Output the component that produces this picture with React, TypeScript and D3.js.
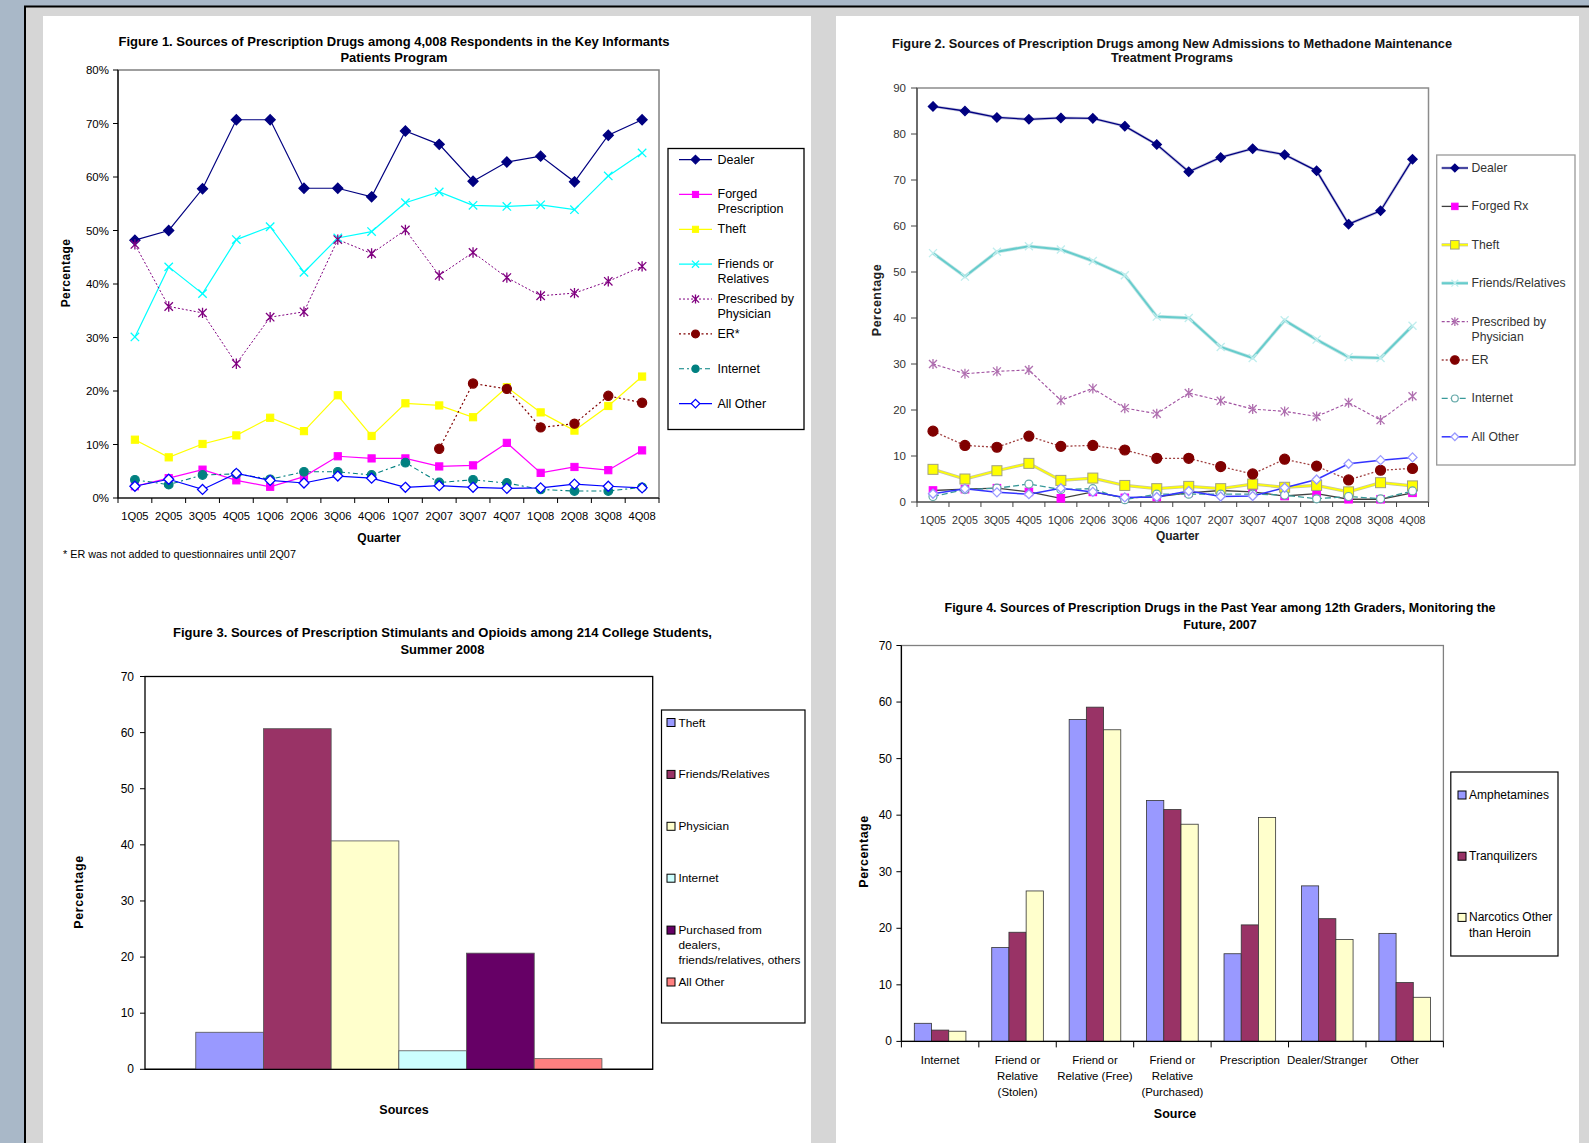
import * as d3 from "d3";

const FONT = "'Liberation Sans', Arial, Helvetica, sans-serif";

const quarters = ["1Q05", "2Q05", "3Q05", "4Q05", "1Q06", "2Q06", "3Q06", "4Q06", "1Q07", "2Q07", "3Q07", "4Q07", "1Q08", "2Q08", "3Q08", "4Q08"];

// Figure 1 - Key Informants (percent)
const f1Dealer = [48.2, 50.0, 57.8, 70.7, 70.7, 57.9, 57.9, 56.3, 68.6, 66.1, 59.2, 62.8, 63.9, 59.1, 67.8, 70.7];
const f1Forged = [2.2, 3.7, 5.3, 3.3, 2.1, 4.0, 7.8, 7.4, 7.4, 5.9, 6.1, 10.3, 4.7, 5.8, 5.2, 8.9];
const f1Theft = [10.9, 7.6, 10.1, 11.7, 15.0, 12.5, 19.2, 11.6, 17.7, 17.3, 15.1, 20.7, 16.0, 12.6, 17.2, 22.7];
const f1Friends = [30.1, 43.2, 38.2, 48.3, 50.7, 42.2, 48.6, 49.8, 55.2, 57.2, 54.7, 54.5, 54.8, 53.9, 60.2, 64.5];
const f1Prescribed = [47.4, 35.8, 34.6, 25.1, 33.8, 34.8, 48.3, 45.7, 50.1, 41.6, 45.9, 41.2, 37.8, 38.3, 40.5, 43.3];
const f1ER = [null, null, null, null, null, null, null, null, null, 9.2, 21.4, 20.4, 13.2, 13.9, 19.1, 17.8];
const f1Internet = [3.4, 2.5, 4.3, 4.5, 3.5, 4.9, 4.9, 4.3, 6.6, 2.9, 3.4, 2.8, 1.6, 1.3, 1.3, 2.0];
const f1AllOther = [2.2, 3.5, 1.6, 4.6, 3.3, 2.8, 4.1, 3.7, 2.0, 2.3, 2.0, 1.8, 1.9, 2.6, 2.2, 1.9];

// Figure 2 - Methadone Maintenance admissions
const f2Dealer = [86.0, 85.0, 83.6, 83.2, 83.5, 83.4, 81.7, 77.7, 71.8, 74.9, 76.8, 75.5, 72.0, 60.4, 63.3, 74.5];
const f2Forged = [2.5, 2.8, 3.0, 2.2, 0.8, 2.2, 0.9, 1.1, 2.0, 2.5, 2.2, 1.3, 1.8, 0.6, 0.6, 2.0];
const f2Theft = [7.1, 5.0, 6.8, 8.4, 4.7, 5.2, 3.6, 2.9, 3.4, 2.9, 3.9, 3.2, 3.6, 2.2, 4.2, 3.5];
const f2Friends = [54.1, 49.0, 54.4, 55.6, 54.9, 52.4, 49.3, 40.3, 40.0, 33.7, 31.3, 39.5, 35.3, 31.5, 31.3, 38.3];
const f2Prescribed = [30.0, 27.9, 28.4, 28.7, 22.1, 24.7, 20.4, 19.2, 23.7, 22.0, 20.2, 19.7, 18.6, 21.6, 17.8, 23.0];
const f2ER = [15.4, 12.3, 11.9, 14.3, 12.1, 12.3, 11.3, 9.5, 9.5, 7.7, 6.1, 9.3, 7.8, 4.8, 6.9, 7.3];
const f2Internet = [1.2, 2.7, 3.0, 3.9, 2.7, 2.9, 0.5, 1.7, 1.7, 1.7, 1.7, 1.5, 0.7, 1.2, 0.7, 2.4];
const f2AllOther = [1.8, 2.9, 2.1, 1.7, 3.0, 2.2, 1.0, 1.1, 2.4, 1.2, 1.3, 3.1, 4.9, 8.3, 9.1, 9.7];

// Figure 3 - College students
const f3Sources = ["Theft", "Friends/Relatives", "Physician", "Internet", "Purchased from\ndealers,\nfriends/relatives, others", "All Other"];
const f3Values = [6.6, 60.7, 40.7, 3.3, 20.7, 1.9];
const f3Colors = ["#9999ff", "#993366", "#ffffcc", "#ccffff", "#660066", "#ff8080"];

// Figure 4 - Monitoring the Future
const f4Sources = ["Internet", "Friend or\nRelative\n(Stolen)", "Friend or\nRelative (Free)", "Friend or\nRelative\n(Purchased)", "Prescription", "Dealer/Stranger", "Other"];
const f4Drugs = ["Amphetamines", "Tranquilizers", "Narcotics Other\nthan Heroin"];
const f4Amph = [3.2, 16.6, 56.9, 42.6, 15.5, 27.5, 19.1];
const f4Tranq = [2.0, 19.3, 59.1, 41.0, 20.6, 21.7, 10.4];
const f4Narc = [1.8, 26.6, 55.1, 38.4, 39.6, 18.0, 7.8];
const f4Colors = ["#9999ff", "#993366", "#ffffcc"];

type MarkerType = "diamond" | "square" | "circle" | "x" | "asterisk";

type LineSeries = {
  label: string;
  values: (number | null)[];
  line: string;
  width: number;
  dash?: string;
  halo?: string;
  marker: MarkerType;
  r: number;
  fill: string;
  stroke: string;
};

function Marker({ type, x, y, r, fill, stroke }: { type: MarkerType; x: number; y: number; r: number; fill: string; stroke: string }) {
  if (type === "diamond")
    return <path d={`M${x},${y - r}L${x + r},${y}L${x},${y + r}L${x - r},${y}Z`} fill={fill} stroke={stroke} strokeWidth={1.3} />;
  if (type === "square")
    return <rect x={x - r} y={y - r} width={2 * r} height={2 * r} fill={fill} stroke={stroke} strokeWidth={1} />;
  if (type === "circle") return <circle cx={x} cy={y} r={r} fill={fill} stroke={stroke} strokeWidth={1.2} />;
  const xs = `M${x - r},${y - r}L${x + r},${y + r}M${x - r},${y + r}L${x + r},${y - r}`;
  const d = type === "asterisk" ? xs + `M${x},${y - r - 1}L${x},${y + r + 1}` : xs;
  return <path d={d} fill="none" stroke={stroke} strokeWidth={1.3} />;
}

function Title({ lines, cx, ys, widths, size, color = "#000" }: { lines: string[]; cx: number; ys: number[]; widths: number[]; size: number; color?: string }) {
  return (
    <g>
      {lines.map((t, i) => (
        <text key={i} x={cx} y={ys[i]} textAnchor="middle" dominantBaseline="central" fontSize={size} fontWeight="bold" fill={color}
          textLength={widths[i]} lengthAdjust="spacingAndGlyphs">{t}</text>
      ))}
    </g>
  );
}

type Box = { l: number; r: number; t: number; b: number };

function LineChart({ plot, yMax, yStep, fmt, series, frame, axis, text, tick, xFont, yFont, yLabelX, xLabelY }: {
  plot: Box; yMax: number; yStep: number; fmt: (v: number) => string; series: LineSeries[]; frame: string; axis: string; text: string; tick: number; xFont: number; yFont: number; yLabelX: number; xLabelY: number;
}) {
  const x = d3.scaleBand().domain(quarters).range([plot.l, plot.r]);
  const y = d3.scaleLinear().domain([0, yMax]).range([plot.b, plot.t]);
  const ticks = d3.range(0, yMax + 0.001, yStep);
  const cx = (q: string) => (x(q) || 0) + x.bandwidth() / 2;
  return (
    <g>
      <rect x={plot.l} y={plot.t} width={plot.r - plot.l} height={plot.b - plot.t} fill="#fff" stroke={frame} strokeWidth={1.5} />
      <line x1={plot.l} x2={plot.l} y1={plot.t} y2={plot.b} stroke={axis} strokeWidth={1.2} />
      <line x1={plot.l} x2={plot.r} y1={plot.b} y2={plot.b} stroke={axis} strokeWidth={1.2} />
      {ticks.map((v) => (
        <g key={v}>
          <line x1={plot.l - tick} x2={plot.l} y1={y(v)} y2={y(v)} stroke={axis} />
          <text x={yLabelX} y={y(v)} textAnchor="end" dominantBaseline="central" fontSize={yFont} fill={text}>{fmt(v)}</text>
        </g>
      ))}
      {quarters.map((q) => (
        <line key={q} x1={x(q)} x2={x(q)} y1={plot.b} y2={plot.b + 5} stroke={axis} />
      ))}
      <line x1={plot.r} x2={plot.r} y1={plot.b} y2={plot.b + 5} stroke={axis} />
      {quarters.map((q) => (
        <text key={q} x={cx(q)} y={xLabelY} textAnchor="middle" dominantBaseline="central" fontSize={xFont} fill={text}>{q}</text>
      ))}
      {series.map((s) => {
        const line = d3.line<number | null>()
          .defined((d) => d != null)
          .x((_, i) => cx(quarters[i]))
          .y((d) => y(d as number));
        const path = line(s.values) || "";
        return (
          <g key={s.label}>
            {s.halo && <path d={path} fill="none" stroke={s.halo} strokeWidth={s.width + 1.6} />}
            <path d={path} fill="none" stroke={s.line} strokeWidth={s.width} strokeDasharray={s.dash} />
          </g>
        );
      })}
      {series.map((s) => (
        <g key={s.label + "m"}>
          {s.values.map((v, i) =>
            v == null ? null : <Marker key={i} type={s.marker} x={cx(quarters[i])} y={y(v)} r={s.r} fill={s.fill} stroke={s.stroke} />
          )}
        </g>
      ))}
    </g>
  );
}

function LineLegend({ box, series, x0, x1, tx, y0, step, lh, size, color, border }: {
  box: Box; series: LineSeries[]; x0: number; x1: number; tx: number; y0: number; step: number; lh: number; size: number; color: string; border: string;
}) {
  return (
    <g>
      <rect x={box.l} y={box.t} width={box.r - box.l} height={box.b - box.t} fill="#fff" stroke={border} strokeWidth={1.3} />
      {series.map((s, i) => {
        const yy = y0 + i * step;
        const mx = (x0 + x1) / 2;
        return (
          <g key={s.label}>
            {s.halo && <line x1={x0} x2={x1} y1={yy} y2={yy} stroke={s.halo} strokeWidth={s.width + 1.6} />}
            <line x1={x0} x2={x1} y1={yy} y2={yy} stroke={s.line} strokeWidth={s.width} strokeDasharray={s.dash} />
            <Marker type={s.marker} x={mx} y={yy} r={s.r * 0.85} fill={s.fill} stroke={s.stroke} />
            {s.label.split("\n").map((t, j) => (
              <text key={j} x={tx} y={yy + j * lh} dominantBaseline="central" fontSize={size} fill={color}>{t}</text>
            ))}
          </g>
        );
      })}
    </g>
  );
}

function YAxis({ plot, yMax, tick, labelX, size }: { plot: Box; yMax: number; tick: number; labelX: number; size: number }) {
  const y = d3.scaleLinear().domain([0, yMax]).range([plot.b, plot.t]);
  return (
    <g>
      {y.ticks(7).map((v) => (
        <g key={v}>
          <line x1={plot.l - tick} x2={plot.l} y1={y(v)} y2={y(v)} stroke="#000" />
          <text x={labelX} y={y(v)} textAnchor="end" dominantBaseline="central" fontSize={size}>{v}</text>
        </g>
      ))}
    </g>
  );
}

function BarLegend({ box, labels, colors, sx, tx, y0, step, lh, size }: {
  box: Box; labels: string[]; colors: string[]; sx: number; tx: number; y0: number; step: number; lh: number; size: number;
}) {
  return (
    <g>
      <rect x={box.l} y={box.t} width={box.r - box.l} height={box.b - box.t} fill="#fff" stroke="#000" strokeWidth={1.2} />
      {labels.map((l, i) => {
        const yy = y0 + i * step;
        return (
          <g key={l}>
            <rect x={sx} y={yy - 4} width={8} height={8} fill={colors[i]} stroke="#000" strokeWidth={1} />
            {l.split("\n").map((t, j) => (
              <text key={j} x={tx} y={yy + j * lh} dominantBaseline="central" fontSize={size}>{t}</text>
            ))}
          </g>
        );
      })}
    </g>
  );
}

export default function App() {
  const f1Series: LineSeries[] = [
    { label: "Dealer", values: f1Dealer, line: "#000080", width: 1.2, marker: "diamond", r: 5, fill: "#000080", stroke: "#000080" },
    { label: "Forged\nPrescription", values: f1Forged, line: "#ff00ff", width: 1.2, marker: "square", r: 3.6, fill: "#ff00ff", stroke: "#ff00ff" },
    { label: "Theft", values: f1Theft, line: "#ffff00", width: 1.2, marker: "square", r: 3.6, fill: "#ffff00", stroke: "#ffff00" },
    { label: "Friends or\nRelatives", values: f1Friends, line: "#00ffff", width: 1.2, marker: "x", r: 4.2, fill: "none", stroke: "#00ffff" },
    { label: "Prescribed by\nPhysician", values: f1Prescribed, line: "#800080", width: 1, dash: "2,2", marker: "asterisk", r: 4.2, fill: "none", stroke: "#800080" },
    { label: "ER*", values: f1ER, line: "#800000", width: 1.2, dash: "2,2.5", marker: "circle", r: 4.6, fill: "#800000", stroke: "#800000" },
    { label: "Internet", values: f1Internet, line: "#008080", width: 1.1, dash: "5,3,2,3", marker: "circle", r: 4.3, fill: "#008080", stroke: "#008080" },
    { label: "All Other", values: f1AllOther, line: "#0000ff", width: 1.2, marker: "diamond", r: 5, fill: "#ffffff", stroke: "#0000ff" },
  ];
  const f2Series: LineSeries[] = [
    { label: "Dealer", values: f2Dealer, line: "#000080", width: 1.3, halo: "#c8c8e0", marker: "diamond", r: 4.6, fill: "#000080", stroke: "#000080" },
    { label: "Forged Rx", values: f2Forged, line: "#404040", width: 1.3, marker: "square", r: 3.8, fill: "#ff00ff", stroke: "#ff00ff" },
    { label: "Theft", values: f2Theft, line: "#ffff00", width: 1.6, halo: "#c8c8a0", marker: "square", r: 5, fill: "#ffff00", stroke: "#a0a080" },
    { label: "Friends/Relatives", values: f2Friends, line: "#66cccc", width: 2, halo: "#c8e8e8", marker: "x", r: 4, fill: "none", stroke: "#c0eeee" },
    { label: "Prescribed by\nPhysician", values: f2Prescribed, line: "#a050a0", width: 1.1, dash: "3,2", marker: "asterisk", r: 4, fill: "none", stroke: "#b070b0" },
    { label: "ER", values: f2ER, line: "#a04040", width: 1.3, dash: "2,2", marker: "circle", r: 5, fill: "#800000", stroke: "#800000" },
    { label: "Internet", values: f2Internet, line: "#3a9a9a", width: 1.3, dash: "6,3", marker: "circle", r: 4, fill: "#ffffff", stroke: "#66aaaa" },
    { label: "All Other", values: f2AllOther, line: "#3333ff", width: 1.5, marker: "diamond", r: 4.5, fill: "#ffffff", stroke: "#9999ff" },
  ];

  // Figure 3 scales
  const p3: Box = { l: 145, r: 652.7, t: 676.5, b: 1069.3 };
  const y3 = d3.scaleLinear().domain([0, 70]).range([p3.b, p3.t]);
  const g3 = d3.scaleBand().domain(["Sources"]).range([p3.l, p3.r]).paddingInner(0).paddingOuter(0.125);
  const b3 = d3.scaleBand().domain(f3Sources).range([g3("Sources") || 0, (g3("Sources") || 0) + g3.bandwidth()]);

  // Figure 4 scales
  const p4: Box = { l: 901.4, r: 1443.4, t: 645.5, b: 1041.4 };
  const y4 = d3.scaleLinear().domain([0, 70]).range([p4.b, p4.t]);
  const x4 = d3.scaleBand().domain(f4Sources).range([p4.l, p4.r]);
  const inner = x4.bandwidth() * (3 / 4.5);
  const b4 = d3.scaleBand().domain(f4Drugs).range([0, inner]);
  const f4Series = [f4Amph, f4Tranq, f4Narc];

  return (
    <div style={{ position: "absolute", left: 0, top: 0 }}>
      <svg width={1589} height={1143} style={{ display: "block", fontFamily: FONT }}>
        {/* page background */}
        <rect x={0} y={0} width={1589} height={1143} fill="#a9b8c8" />
        <rect x={24} y={5.5} width={1565} height={1137.5} fill="#000" />
        <rect x={26} y={7.5} width={1563} height={1135.5} fill="#d6d6d6" />
        <rect x={43} y={16} width={768} height={1127} fill="#fff" />
        <rect x={836} y={16} width={743} height={1127} fill="#fff" />

        {/* Figure 1 */}
        <Title lines={["Figure 1. Sources of Prescription Drugs among 4,008 Respondents in the Key Informants", "Patients Program"]}
          cx={394} ys={[42, 57.5]} widths={[551, 107]} size={12.5} />
        <LineChart plot={{ l: 118, r: 659, t: 70, b: 498 }} yMax={80} yStep={10} fmt={(v) => `${v}%`} series={f1Series}
          frame="#808080" axis="#000" text="#000" tick={5} xFont={11.2} yFont={11.5} yLabelX={109} xLabelY={516} />
        <text transform="translate(66,273) rotate(-90)" textAnchor="middle" dominantBaseline="central" fontSize={12} fontWeight="bold" letterSpacing={0.4}>Percentage</text>
        <text x={379} y={537.5} textAnchor="middle" dominantBaseline="central" fontSize={12} fontWeight="bold">Quarter</text>
        <text x={63} y={554} dominantBaseline="central" fontSize={10.8}>* ER was not added to questionnaires until 2Q07</text>
        <LineLegend box={{ l: 668, r: 804, t: 148.5, b: 429.5 }} series={f1Series} x0={679} x1={712} tx={717.5} y0={159.6} step={34.86} lh={15}
          size={12.5} color="#000" border="#000" />

        {/* Figure 2 */}
        <Title lines={["Figure 2. Sources of Prescription Drugs among New Admissions to Methadone Maintenance", "Treatment Programs"]}
          cx={1172} ys={[43.6, 58.4]} widths={[560, 122]} size={12.5} color="#111" />
        <LineChart plot={{ l: 917, r: 1428.5, t: 88, b: 502 }} yMax={90} yStep={10} fmt={(v) => `${v}`} series={f2Series}
          frame="#8c8c8c" axis="#444" text="#333" tick={6} xFont={10.6} yFont={11.5} yLabelX={906} xLabelY={519.6} />
        <text transform="translate(877,300) rotate(-90)" textAnchor="middle" dominantBaseline="central" fontSize={12.5} fontWeight="bold" letterSpacing={0.5} fill="#222">Percentage</text>
        <text x={1177.6} y={535.7} textAnchor="middle" dominantBaseline="central" fontSize={12} fontWeight="bold" fill="#222">Quarter</text>
        <LineLegend box={{ l: 1436.7, r: 1575, t: 155, b: 465 }} series={f2Series} x0={1441.7} x1={1468} tx={1471.5} y0={168} step={38.4} lh={15}
          size={12.2} color="#333" border="#999" />

        {/* Figure 3 */}
        <Title lines={["Figure 3. Sources of Prescription Stimulants and Opioids among 214 College Students,", "Summer 2008"]}
          cx={442.5} ys={[633, 649.6]} widths={[539, 84]} size={12.5} />
        <rect x={p3.l} y={p3.t} width={p3.r - p3.l} height={p3.b - p3.t} fill="#fff" stroke="#000" strokeWidth={1.3} />
        {f3Sources.map((s, i) => (
          <rect key={s} x={b3(s)} y={y3(f3Values[i])} width={b3.bandwidth()} height={p3.b - y3(f3Values[i])}
            fill={f3Colors[i]} stroke="#555" strokeWidth={0.8} />
        ))}
        <line x1={p3.l} x2={p3.r} y1={p3.b} y2={p3.b} stroke="#000" strokeWidth={1.3} />
        <YAxis plot={p3} yMax={70} tick={5} labelX={134} size={12} />
        <text transform="translate(78.5,892) rotate(-90)" textAnchor="middle" dominantBaseline="central" fontSize={12.5} fontWeight="bold" letterSpacing={0.6}>Percentage</text>
        <text x={404} y={1110} textAnchor="middle" dominantBaseline="central" fontSize={12.5} fontWeight="bold">Sources</text>
        <BarLegend box={{ l: 661.5, r: 805, t: 710, b: 1023 }} labels={f3Sources} colors={f3Colors} sx={667} tx={678.5} y0={722.5} step={51.9} lh={14.9} size={11.8} />

        {/* Figure 4 */}
        <Title lines={["Figure 4. Sources of Prescription Drugs in the Past Year among 12th Graders, Monitoring the", "Future, 2007"]}
          cx={1220} ys={[607.6, 625.4]} widths={[551, 73.5]} size={12.5} />
        <rect x={p4.l} y={p4.t} width={p4.r - p4.l} height={p4.b - p4.t} fill="#fff" stroke="#808080" strokeWidth={1.3} />
        {f4Sources.map((s, i) => (
          <g key={s} transform={`translate(${(x4(s) || 0) + (x4.bandwidth() - inner) / 2},0)`}>
            {f4Drugs.map((d, k) => (
              <rect key={d} x={b4(d)} y={y4(f4Series[k][i])} width={b4.bandwidth()} height={p4.b - y4(f4Series[k][i])}
                fill={f4Colors[k]} stroke="#333" strokeWidth={0.8} />
            ))}
          </g>
        ))}
        <line x1={p4.l} x2={p4.l} y1={p4.t} y2={p4.b} stroke="#000" strokeWidth={1.3} />
        <line x1={p4.l} x2={p4.r} y1={p4.b} y2={p4.b} stroke="#000" strokeWidth={1.3} />
        {f4Sources.map((s) => (
          <line key={s} x1={x4(s)} x2={x4(s)} y1={p4.b} y2={p4.b + 6} stroke="#000" />
        ))}
        <line x1={p4.r} x2={p4.r} y1={p4.b} y2={p4.b + 6} stroke="#000" />
        <YAxis plot={p4} yMax={70} tick={5} labelX={892} size={12} />
        {f4Sources.map((s) => (
          <g key={s}>
            {s.split("\n").map((t, j) => (
              <text key={j} x={(x4(s) || 0) + x4.bandwidth() / 2} y={1060 + j * 15.8} textAnchor="middle" dominantBaseline="central" fontSize={11.4}>{t}</text>
            ))}
          </g>
        ))}
        <text transform="translate(863.5,851.5) rotate(-90)" textAnchor="middle" dominantBaseline="central" fontSize={12.5} fontWeight="bold" letterSpacing={0.5}>Percentage</text>
        <text x={1175} y={1114} textAnchor="middle" dominantBaseline="central" fontSize={12.5} fontWeight="bold">Source</text>
        <BarLegend box={{ l: 1450.8, r: 1558, t: 772, b: 956 }} labels={f4Drugs} colors={f4Colors} sx={1458} tx={1469} y0={795} step={61.2} lh={15.5} size={12} />
      </svg>
    </div>
  );
}
